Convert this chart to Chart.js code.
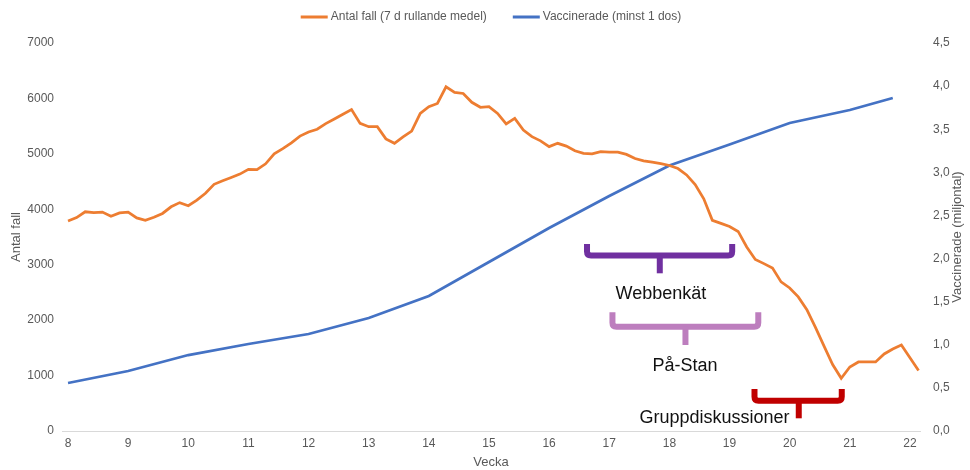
<!DOCTYPE html>
<html>
<head>
<meta charset="utf-8">
<script src="https://cdn.jsdelivr.net/npm/chart.js@4.4.1/dist/chart.umd.min.js"></script>
<style>
  html, body { margin: 0; padding: 0; background: #ffffff; }
  #wrap { width: 970px; height: 470px; position: relative; }
</style>
</head>
<body>
<div id="wrap"><canvas id="c" width="970" height="470"></canvas></div>
<script>
// ---- data ----
const weekTicks = [8, 9, 10, 11, 12, 13, 14, 15, 16, 17, 18, 19, 20, 21, 22];
const casesStartWeek = 8;          // first day of the daily series
const daysPerWeek = 7;
const seriesNames = ['Antal fall (7 d rullande medel)', 'Vaccinerade (minst 1 dos)'];

// 7-day rolling mean of cases, one value per day from week 8
const cases = [
  3790, 3850, 3955, 3940, 3950, 3875, 3935,
  3950, 3845, 3800, 3855, 3925, 4045, 4120,
  4065, 4165, 4290, 4450, 4515, 4575, 4635,
  4720, 4715, 4820, 5000, 5095, 5200, 5320,
  5395, 5445, 5545, 5630, 5715, 5800, 5550,
  5490, 5490, 5270, 5190, 5305, 5410, 5730,
  5850, 5910, 6210, 6110, 6090, 5930, 5840,
  5850, 5730, 5540, 5640, 5430, 5310, 5235,
  5130, 5190, 5140, 5055, 5010, 5000, 5040,
  5030, 5030, 4990, 4915, 4875, 4850, 4825,
  4790, 4735, 4620, 4445, 4190, 3800, 3745,
  3690, 3600, 3320, 3095, 3020, 2940, 2690,
  2580, 2420, 2190, 1870, 1530, 1200, 950,
  1155, 1245, 1245, 1245, 1390, 1480, 1550,
  1320, 1090
];

// vaccinated (at least one dose), millions
const vaccWeeks  = [8, 9, 10, 11, 12, 13, 14, 15, 16, 17, 18, 19, 20, 21, 21.714];
const vaccinated = [0.557, 0.696, 0.881, 1.009, 1.125, 1.311, 1.566, 1.960, 2.354, 2.726, 3.079, 3.323, 3.572, 3.723, 3.862];

// annotation braces (week / case-count coordinates)
const braceLabels = ['Webbenkät', 'På-Stan', 'Gruppdiskussioner'];
const braceColors = ['#7030A0', '#BD7EBE', '#C00000'];
const braceFrom   = [16.63, 17.053, 19.415];
const braceTo     = [19.044, 19.478, 20.866];
const braceTip    = [17.84, 18.267, 20.151];
const braceTop    = [3374, 2141, 758];
const braceBar    = [3166, 1882, 547];
const braceEnd    = [2845, 1552, 229];
const braceTextX  = [17.86, 18.259, 18.75];
const braceTextY  = [2381, 1082, 144];

// ---- chart ----
const FONT = '"Liberation Sans", Arial, sans-serif';
const GREY = '#595959';

const overlayPlugin = {
  id: 'overlay',
  afterDraw(chart) {
    const ctx = chart.ctx;
    const xs = chart.scales.x, ys = chart.scales.y, ys1 = chart.scales.y1;
    const area = chart.chartArea;

    // legend
    ctx.save();
    ctx.font = '12px ' + FONT;
    ctx.textBaseline = 'middle';
    const sw = 27, gap = 3, between = 26, ly = 17;
    const items = chart.data.datasets.map(d => ({ t: d.label, c: d.borderColor, w: ctx.measureText(d.label).width }));
    let total = items.reduce((s, it) => s + sw + gap + it.w, 0) + between * (items.length - 1);
    let lx = (area.left + area.right) / 2 - total / 2;
    items.forEach(it => {
      ctx.fillStyle = it.c;
      ctx.fillRect(lx, ly - 1.5, sw, 3);
      ctx.fillStyle = GREY;
      ctx.textAlign = 'left';
      ctx.fillText(it.t, lx + sw + gap, ly);
      lx += sw + gap + it.w + between;
    });
    ctx.restore();

    // right axis title (reads bottom-to-top)
    ctx.save();
    ctx.font = '13px ' + FONT;
    ctx.fillStyle = GREY;
    ctx.textAlign = 'center';
    ctx.textBaseline = 'middle';
    ctx.translate(ys1.right - 12.5, (area.top + area.bottom) / 2);
    ctx.rotate(-Math.PI / 2);
    ctx.fillText('Vaccinerade (miljontal)', 0, 0);
    ctx.restore();

    // braces
    for (let i = 0; i < braceLabels.length; i++) {
      const xl = xs.getPixelForValue(braceFrom[i]);
      const xr = xs.getPixelForValue(braceTo[i]);
      const xt = xs.getPixelForValue(braceTip[i]);
      const yT = ys.getPixelForValue(braceTop[i]);
      const yB = ys.getPixelForValue(braceBar[i]);
      const yE = ys.getPixelForValue(braceEnd[i]);
      const r = 4;
      ctx.save();
      ctx.font = '18px ' + FONT;
      ctx.fillStyle = '#111111';
      ctx.textAlign = 'center';
      ctx.textBaseline = 'alphabetic';
      ctx.fillText(braceLabels[i], xs.getPixelForValue(braceTextX[i]), ys.getPixelForValue(braceTextY[i]));
      ctx.strokeStyle = braceColors[i];
      ctx.lineWidth = 6;
      ctx.lineJoin = 'round';
      ctx.lineCap = 'butt';
      ctx.beginPath();
      ctx.moveTo(xl, yT);
      ctx.lineTo(xl, yB - r);
      ctx.quadraticCurveTo(xl, yB, xl + r, yB);
      ctx.lineTo(xr - r, yB);
      ctx.quadraticCurveTo(xr, yB, xr, yB - r);
      ctx.lineTo(xr, yT);
      ctx.stroke();
      ctx.beginPath();
      ctx.moveTo(xt, yB);
      ctx.lineTo(xt, yE);
      ctx.stroke();
      ctx.restore();
    }
  }
};

new Chart(document.getElementById('c'), {
  type: 'line',
  data: {
    datasets: [
      {
        label: seriesNames[0],
        data: cases.map((v, i) => ({ x: casesStartWeek + i / daysPerWeek, y: v })),
        borderColor: '#ED7D31',
        backgroundColor: '#ED7D31',
        borderWidth: 2.75,
        pointRadius: 0,
        tension: 0,
        yAxisID: 'y'
      },
      {
        label: seriesNames[1],
        data: vaccWeeks.map((w, i) => ({ x: w, y: vaccinated[i] })),
        borderColor: '#4472C4',
        backgroundColor: '#4472C4',
        borderWidth: 2.75,
        pointRadius: 0,
        tension: 0,
        yAxisID: 'y1'
      }
    ]
  },
  options: {
    responsive: false,
    animation: false,
    devicePixelRatio: 1,
    layout: { padding: { top: 43, left: 0, right: 0, bottom: 0 } },
    plugins: { legend: { display: false }, tooltip: { enabled: false } },
    scales: {
      x: {
        type: 'linear',
        min: 7.9,
        max: 22.167,
        afterBuildTicks: axis => { axis.ticks = weekTicks.map(v => ({ value: v })); },
        afterFit: s => { s.height = 39; },
        ticks: { autoSkip: false, maxRotation: 0, padding: 5, color: GREY, font: { family: FONT, size: 12 }, callback: v => String(v) },
        grid: { display: true, drawOnChartArea: false, drawTicks: false, color: 'rgba(0,0,0,0)' },
        border: { display: true, color: '#D9D9D9', width: 1 },
        title: { display: true, text: 'Vecka', color: GREY, font: { family: FONT, size: 13 }, padding: { top: 0, bottom: 0 } }
      },
      y: {
        position: 'left',
        min: 0,
        max: 7000,
        afterBuildTicks: axis => { const t = []; for (let v = 0; v <= 7000; v += 1000) t.push({ value: v }); axis.ticks = t; },
        afterFit: s => { s.width = 62; },
        ticks: { padding: 8, color: GREY, font: { family: FONT, size: 12 }, callback: v => String(v) },
        grid: { display: false, drawTicks: false },
        border: { display: false },
        title: { display: true, text: 'Antal fall', color: GREY, font: { family: FONT, size: 13 }, padding: { top: 9, bottom: 0 } }
      },
      y1: {
        position: 'right',
        min: 0,
        max: 4.5,
        afterBuildTicks: axis => { const t = []; for (let k = 0; k <= 9; k++) t.push({ value: k * 0.5 }); axis.ticks = t; },
        afterFit: s => { s.width = 50; },
        ticks: { padding: 13, color: GREY, font: { family: FONT, size: 12 }, callback: v => Number(v).toFixed(1).replace('.', ',') },
        grid: { display: false, drawTicks: false },
        border: { display: false },
        title: { display: false }
      }
    }
  },
  plugins: [overlayPlugin]
});
</script>
</body>
</html>
